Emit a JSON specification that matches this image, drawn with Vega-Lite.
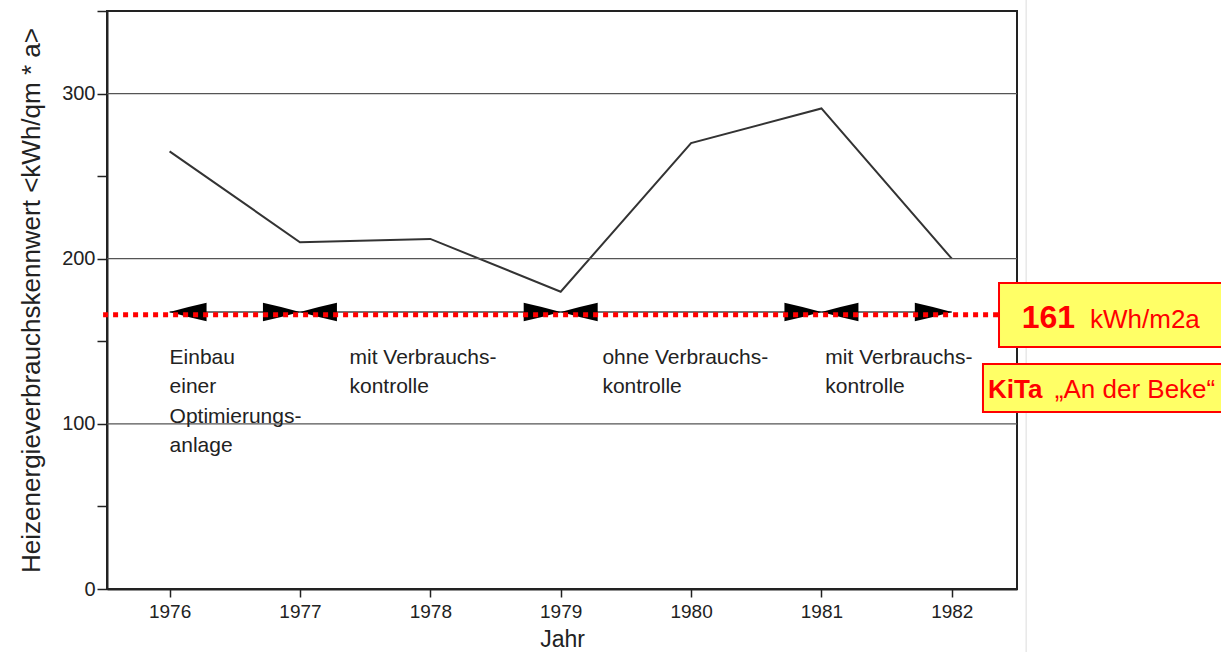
{
  "$schema": "https://vega.github.io/schema/vega-lite/v6.json",
  "width": 910,
  "height": 578,
  "autosize": {"type": "none"},
  "padding": {"left": 107, "top": 11, "right": 204, "bottom": 63},
  "background": "white",
  "config": {
    "view": {"stroke": "#222", "strokeWidth": 2},
    "font": "Liberation Sans"
  },
  "datasets": {
    "series": [
      {"Jahr": 1976, "Wert": 265},
      {"Jahr": 1977, "Wert": 210},
      {"Jahr": 1978, "Wert": 212},
      {"Jahr": 1979, "Wert": 180},
      {"Jahr": 1980, "Wert": 270},
      {"Jahr": 1981, "Wert": 291},
      {"Jahr": 1982, "Wert": 200}
    ],
    "grid": [{"Wert": 100}, {"Wert": 200}, {"Wert": 300}],
    "arrows": [
      {"Jahr": 1976, "Richtung": "links"},
      {"Jahr": 1977, "Richtung": "rechts"},
      {"Jahr": 1977, "Richtung": "links"},
      {"Jahr": 1979, "Richtung": "rechts"},
      {"Jahr": 1979, "Richtung": "links"},
      {"Jahr": 1981, "Richtung": "rechts"},
      {"Jahr": 1981, "Richtung": "links"},
      {"Jahr": 1982, "Richtung": "rechts"}
    ],
    "phases": [
      {"Jahr": 1976, "Text": "Einbau\neiner\nOptimierungs-\nanlage"},
      {"Jahr": 1977.38, "Text": "mit Verbrauchs-\nkontrolle"},
      {"Jahr": 1979.32, "Text": "ohne Verbrauchs-\nkontrolle"},
      {"Jahr": 1981.03, "Text": "mit Verbrauchs-\nkontrolle"}
    ],
    "one": [{"id": 1}]
  },
  "layer": [
    {
      "data": {"name": "series"},
      "mark": {"type": "line", "color": "#333", "strokeWidth": 2},
      "encoding": {
        "x": {
          "field": "Jahr", "type": "quantitative",
          "scale": {"domain": [1975.52, 1982.5], "nice": false, "zero": false},
          "axis": {
            "values": [1976, 1977, 1978, 1979, 1980, 1981, 1982],
            "format": "d",
            "title": "Jahr",
            "grid": false,
            "domainColor": "#222", "domainWidth": 2,
            "tickColor": "#222", "tickWidth": 1.5, "tickSize": 8,
            "labelFontSize": 19, "labelColor": "#222", "labelPadding": 5,
            "titleFontSize": 23, "titleFontWeight": "normal", "titleColor": "#222", "titlePadding": 7
          }
        },
        "y": {
          "field": "Wert", "type": "quantitative",
          "scale": {"domain": [0, 350], "nice": false},
          "axis": {
            "values": [0, 50, 100, 150, 200, 250, 300, 350],
            "labelExpr": "(datum.value % 100 == 0 && datum.value < 350) ? datum.label : ''",
            "title": "Heizenergieverbrauchskennwert <kWh/qm * a>",
            "grid": false,
            "domainColor": "#222", "domainWidth": 2,
            "tickColor": "#222", "tickWidth": 1.5, "tickSize": 10,
            "labelFontSize": 20, "labelColor": "#222", "labelPadding": 2,
            "titleFontSize": 26, "titleFontWeight": "normal", "titleColor": "#222", "titlePadding": 17
          }
        }
      }
    },
    {
      "data": {"name": "grid"},
      "mark": {"type": "rule", "color": "#555", "strokeWidth": 1.2},
      "encoding": {
        "y": {"field": "Wert", "type": "quantitative", "scale": {"domain": [0, 350], "nice": false}}
      }
    },
    {
      "data": {"name": "one"},
      "mark": {"type": "rule", "color": "#444", "strokeWidth": 1.5},
      "encoding": {
        "x": {"datum": 1976, "type": "quantitative", "scale": {"domain": [1975.52, 1982.5], "nice": false, "zero": false}},
        "x2": {"datum": 1982},
        "y": {"datum": 167.8, "type": "quantitative", "scale": {"domain": [0, 350], "nice": false}}
      }
    },
    {
      "data": {"name": "arrows"},
      "mark": {"type": "point", "filled": true, "opacity": 1, "color": "#000", "size": 1369, "strokeWidth": 0},
      "encoding": {
        "x": {"field": "Jahr", "type": "quantitative", "scale": {"domain": [1975.52, 1982.5], "nice": false, "zero": false}},
        "y": {"datum": 167.8, "type": "quantitative", "scale": {"domain": [0, 350], "nice": false}},
        "shape": {
          "field": "Richtung", "type": "nominal", "legend": null,
          "scale": {
            "domain": ["links", "rechts"],
            "range": ["M0,0Q1,-0.28 2,-0.5L2,0.5Q1,0.28 0,0Z", "M0,0Q-1,-0.28 -2,-0.5L-2,0.5Q-1,0.28 0,0Z"]
          }
        }
      }
    },
    {
      "data": {"name": "one"},
      "mark": {"type": "rule", "color": "#ff0000", "strokeWidth": 5, "strokeDash": [5, 5], "strokeCap": "butt", "clip": false},
      "encoding": {
        "x": {"datum": 1975.49, "type": "quantitative", "scale": {"domain": [1975.52, 1982.5], "nice": false, "zero": false}},
        "x2": {"datum": 1982.36},
        "y": {"datum": 166, "type": "quantitative", "scale": {"domain": [0, 350], "nice": false}}
      }
    },
    {
      "data": {"name": "phases"},
      "mark": {"type": "text", "align": "left", "baseline": "alphabetic", "fontSize": 21, "lineHeight": 29.5, "lineBreak": "\n", "color": "#222"},
      "encoding": {
        "x": {"field": "Jahr", "type": "quantitative", "scale": {"domain": [1975.52, 1982.5], "nice": false, "zero": false}},
        "y": {"datum": 136.3, "type": "quantitative", "scale": {"domain": [0, 350], "nice": false}},
        "text": {"field": "Text", "type": "nominal"}
      }
    },
    {
      "data": {"name": "one"},
      "mark": {"type": "rule", "color": "#dddddd", "strokeWidth": 1, "clip": false},
      "encoding": {
        "x": {"datum": 1982.57, "type": "quantitative", "scale": {"domain": [1975.52, 1982.5], "nice": false, "zero": false}},
        "y": {"datum": -45, "type": "quantitative", "scale": {"domain": [0, 350], "nice": false}},
        "y2": {"datum": 360}
      }
    },
    {
      "data": {"name": "one"},
      "mark": {"type": "rect", "fill": "#ffff66", "stroke": "#ff0000", "strokeWidth": 2, "clip": false},
      "encoding": {
        "x": {"datum": 1982.362, "type": "quantitative", "scale": {"domain": [1975.52, 1982.5], "nice": false, "zero": false}},
        "x2": {"datum": 1984.2},
        "y": {"datum": 185.3, "type": "quantitative", "scale": {"domain": [0, 350], "nice": false}},
        "y2": {"datum": 146.5}
      }
    },
    {
      "data": {"name": "one"},
      "mark": {"type": "rect", "fill": "#ffff66", "stroke": "#ff0000", "strokeWidth": 2, "clip": false},
      "encoding": {
        "x": {"datum": 1982.239, "type": "quantitative", "scale": {"domain": [1975.52, 1982.5], "nice": false, "zero": false}},
        "x2": {"datum": 1984.2},
        "y": {"datum": 136.2, "type": "quantitative", "scale": {"domain": [0, 350], "nice": false}},
        "y2": {"datum": 107.2}
      }
    },
    {
      "data": {"name": "one"},
      "mark": {"type": "text", "text": "161", "align": "right", "baseline": "alphabetic", "fontSize": 32, "fontWeight": "bold", "color": "#ff0000", "clip": false},
      "encoding": {
        "x": {"datum": 1982.945, "type": "quantitative", "scale": {"domain": [1975.52, 1982.5], "nice": false, "zero": false}},
        "y": {"datum": 158, "type": "quantitative", "scale": {"domain": [0, 350], "nice": false}}
      }
    },
    {
      "data": {"name": "one"},
      "mark": {"type": "text", "text": "kWh/m2a", "align": "left", "baseline": "alphabetic", "fontSize": 26, "color": "#ff0000", "clip": false},
      "encoding": {
        "x": {"datum": 1983.06, "type": "quantitative", "scale": {"domain": [1975.52, 1982.5], "nice": false, "zero": false}},
        "y": {"datum": 158, "type": "quantitative", "scale": {"domain": [0, 350], "nice": false}}
      }
    },
    {
      "data": {"name": "one"},
      "mark": {"type": "text", "text": "KiTa", "align": "left", "baseline": "alphabetic", "fontSize": 26, "fontWeight": "bold", "color": "#ff0000", "clip": false},
      "encoding": {
        "x": {"datum": 1982.278, "type": "quantitative", "scale": {"domain": [1975.52, 1982.5], "nice": false, "zero": false}},
        "y": {"datum": 115.7, "type": "quantitative", "scale": {"domain": [0, 350], "nice": false}}
      }
    },
    {
      "data": {"name": "one"},
      "mark": {"type": "text", "text": "„An der Beke“", "align": "left", "baseline": "alphabetic", "fontSize": 26, "color": "#ff0000", "clip": false},
      "encoding": {
        "x": {"datum": 1982.79, "type": "quantitative", "scale": {"domain": [1975.52, 1982.5], "nice": false, "zero": false}},
        "y": {"datum": 115.7, "type": "quantitative", "scale": {"domain": [0, 350], "nice": false}}
      }
    }
  ]
}
